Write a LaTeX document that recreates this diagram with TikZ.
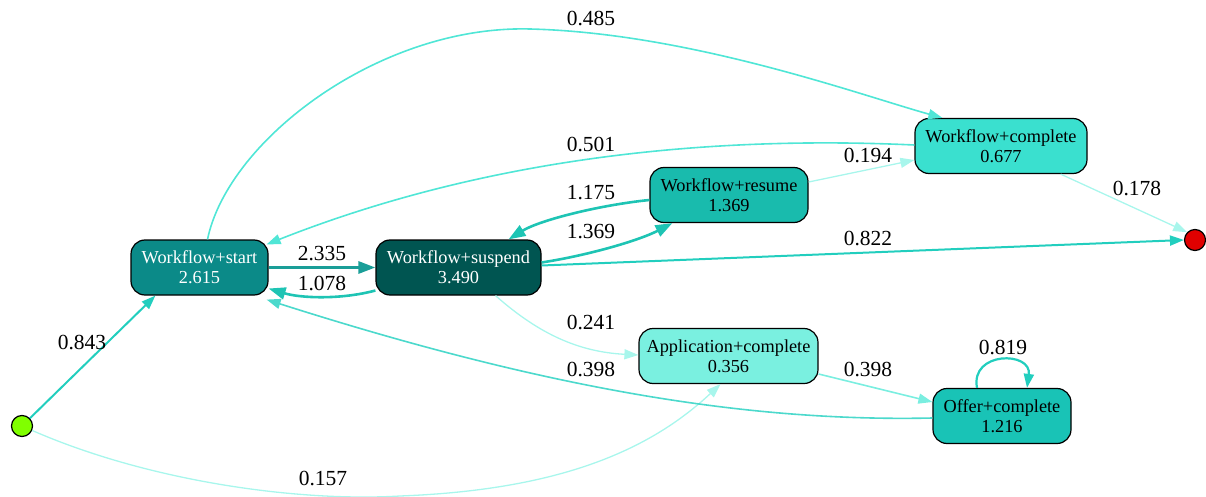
\documentclass[tikz,border=0pt]{standalone}
\usepackage{fontspec}
\setmainfont{Liberation Serif}
\usetikzlibrary{arrows.meta,calc}
\definecolor{cStart}{HTML}{0B8A88}
\definecolor{cSusp}{HTML}{005551}
\definecolor{cRes}{HTML}{19BBAD}
\definecolor{cComp}{HTML}{3AE0CF}
\definecolor{cApp}{HTML}{7AF0E0}
\definecolor{cOffer}{HTML}{19C3B6}
\definecolor{eDark}{HTML}{1A9E98}
\definecolor{eMid}{HTML}{1EC4B4}
\definecolor{eMid2}{HTML}{22CEBE}
\definecolor{eLight}{HTML}{50E6D6}
\definecolor{eLight2}{HTML}{7AEEE0}
\definecolor{ePale}{HTML}{A8F6EC}
\definecolor{eBack}{HTML}{4CD9CC}
\definecolor{cGreen}{HTML}{80FF00}
\definecolor{cRed}{HTML}{E00000}
\tikzset{
  act/.style={draw=black, line width=1.2pt, rounded corners=14pt, minimum height=55pt,
    align=center, font=\fontsize{18.3}{20}\selectfont, inner sep=0pt},
  ev/.style={circle, draw=black, line width=1.2pt, minimum size=21pt, inner sep=0pt},
  edge/.style={-{Triangle[length=14pt,width=10pt]}, line width=1.6pt},
  bigedge/.style={-{Triangle[length=17pt,width=12pt]}, line width=2.6pt},
  elab/.style={font=\fontsize{21.5}{23}\selectfont, inner sep=1pt}
}
\begin{document}
\begin{tikzpicture}[x=1pt,y=-1pt]
\useasboundingbox (0,0) rectangle (1206,497);
% nodes
\node[act, fill=cStart, text=white, minimum width=137pt] (ws) at (199.5,267.5) {Workflow+start\\2.615};
\node[act, fill=cSusp, text=white, minimum width=165pt] (wsu) at (458.5,267.5) {Workflow+suspend\\3.490};
\node[act, fill=cRes, minimum width=158pt] (wr) at (729,195) {Workflow+resume\\1.369};
\node[act, fill=cComp, minimum width=172pt] (wc) at (1001,146) {Workflow+complete\\0.677};
\node[act, fill=cApp, minimum width=179pt] (ac) at (728.5,356) {Application+complete\\0.356};
\node[act, fill=cOffer, minimum width=138pt] (oc) at (1002,416) {Offer+complete\\1.216};
\node[ev, fill=cGreen] (s) at (22,426) {};
\node[ev, fill=cRed] (e) at (1195,240) {};
% edges
\draw[edge, color=eMid2, line width=2pt] (s) -- ($(ws.south west)+(25,0)$);
\node[elab] (l843) at (82,343) {0.843};
\draw[edge, color=ePale, line width=1.3pt] (s) .. controls (150,482) and (300,502) .. (400,496)
  .. controls (560,490) and (650,450) .. ($(ac.south)+(-8,0)$);
\node[elab] (l157) at (323,478) {0.157};
\draw[bigedge, color=eDark, line width=3pt] (ws.east) -- (wsu.west);
\node[elab] (l2335) at (322,254) {2.335};
\draw[bigedge, color=eMid] ($(wsu.west)+(0,23)$) .. controls (340,300) and (300,298) .. ($(ws.east)+(0,21)$);
\node[elab] (l1078) at (322,284) {1.078};
\draw[edge, color=eLight] ($(ws.north)+(8,0)$) .. controls (228,140) and (380,25) .. (530,29)
  .. controls (690,33) and (860,95) .. ($(wc.north west)+(28,0)$);
\node[elab] (l485) at (591,19) {0.485};
\draw[edge, color=eLight] ($(wc.west)+(0,-1)$) .. controls (700,135) and (480,160) .. ($(ws.north east)+(-2,5)$);
\node[elab] (l501) at (591,145) {0.501};
\draw[bigedge, color=eMid] ($(wr.west)+(0,5)$) .. controls (600,205) and (540,220) .. ($(wsu.north)+(50,0)$);
\node[elab] (l1175) at (591,193) {1.175};
\draw[bigedge, color=eMid] ($(wsu.east)+(0,-5)$) .. controls (590,255) and (640,240) .. ($(wr.south west)+(23,0)$);
\node[elab] (l1369) at (591,232) {1.369};
\draw[edge, color=ePale, line width=1.3pt] ($(wr.east)+(0,-13)$) -- ($(wc.west)+(0,14)$);
\node[elab] (l194) at (868,156) {0.194};
\draw[edge, color=eMid2, line width=2pt] ($(wsu.east)+(0,-2)$) -- (e.west);
\node[elab] (l822) at (868,239) {0.822};
\draw[edge, color=ePale, line width=1.3pt] ($(wc.south east)+(-27,0)$) -- (e.north west);
\node[elab] (l178) at (1137,189) {0.178};
\draw[edge, color=ePale, line width=1.3pt] ($(wsu.south)+(37,0)$) .. controls (540,335) and (580,352) .. ($(ac.west)+(0,-1)$);
\node[elab] (l241) at (591,323) {0.241};
\draw[edge, color=eLight2] ($(ac.east)+(0,18)$) -- ($(oc.west)+(0,-14)$);
\node[elab] (l398a) at (868,369) {0.398};
\draw[edge, color=eBack] ($(oc.west)+(0,2)$) .. controls (750,422) and (550,390) .. ($(ws.south east)+(-2,4)$);
\node[elab] (l398b) at (591,370) {0.398};
\draw[edge, color=eMid2, line width=2.2pt] ($(oc.north)+(-25,0)$) .. controls (970,351) and (1032,351) .. ($(oc.north)+(25,0)$);
\node[elab] (l819) at (1003,348) {0.819};
\end{tikzpicture}
\end{document}
